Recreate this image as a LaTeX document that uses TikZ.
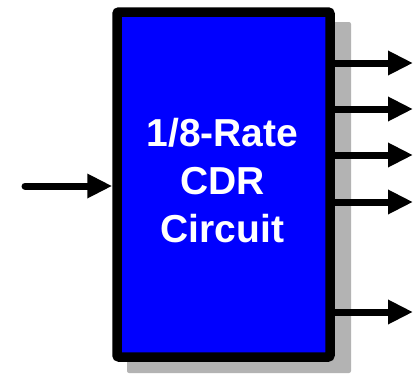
\documentclass[tikz,border=0pt]{standalone}
\usepackage{fontspec}
\setmainfont{Liberation Sans}
\usetikzlibrary{arrows.meta,positioning,calc}
\definecolor{cdrblue}{RGB}{0,0,255}
\definecolor{shadowgray}{RGB}{179,179,179}

\begin{document}
\begin{tikzpicture}[x=1pt,y=-1pt,
  cdrbox/.style={draw=black, line width=9.5pt, fill=cdrblue, rounded corners=2pt, minimum width=213pt, minimum height=345pt, inner sep=0pt},
  cdrtext/.style={text=white, align=center, inner sep=0pt, font=\fontsize{39}{48}\selectfont\bfseries},
  sigarrow/.style={line width=7pt, -{Triangle[length=25pt,width=23pt]}}]
\useasboundingbox (0,0) rectangle (413,373);
% Shadow
\fill[shadowgray, rounded corners=2pt] (127,22) rectangle (351,373);
% Block
\node[cdrbox] (cdr) at (223.5,184.5) {};
\node[cdrtext] (title) at ($(cdr.center)+(-1,-4)$) {1/8-Rate\\CDR\\Circuit};

% Input
\coordinate (in) at (25,186);
\draw[sigarrow, line cap=round] (in) -- (in -| cdr.west);
% Outputs
\coordinate (out1) at (413,63);
\coordinate (out2) at (413,109);
\coordinate (out3) at (413,155);
\coordinate (out4) at (413,202);
\coordinate (out5) at (413,312);
\foreach \o in {out1,out2,out3,out4,out5}
  \draw[sigarrow] (\o -| cdr.east) -- (\o);
\end{tikzpicture}
\end{document}
